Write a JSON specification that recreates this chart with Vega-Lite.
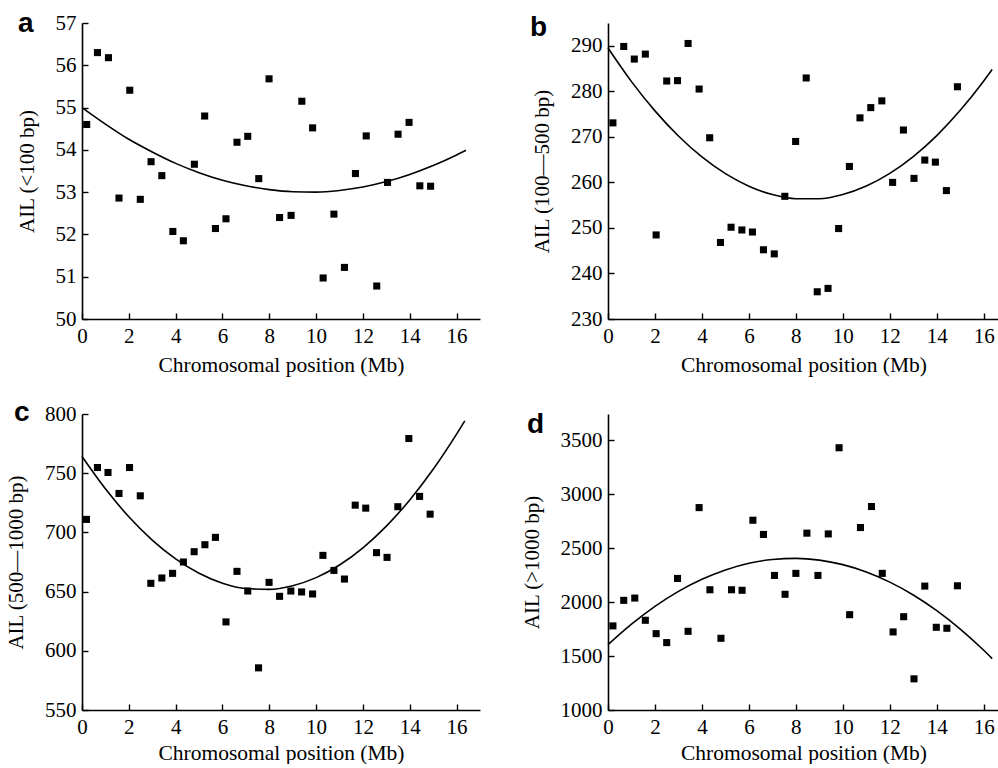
{
  "$schema": "https://vega.github.io/schema/vega-lite/v6.json",
  "background": "white",
  "padding": {"left": 5, "top": 10, "right": 0, "bottom": 0},
  "bounds": "flush",
  "columns": 2,
  "spacing": {"row": 95, "column": 128},
  "datasets": {
    "a_pts": [
      {"pos":0.2,"ail":54.6},{"pos":0.66,"ail":56.3},{"pos":1.13,"ail":56.18},{"pos":1.58,"ail":52.86},{"pos":2.04,"ail":55.41},{"pos":2.49,"ail":52.83},{"pos":2.95,"ail":53.72},{"pos":3.41,"ail":53.39},{"pos":3.88,"ail":52.07},{"pos":4.33,"ail":51.85},{"pos":4.8,"ail":53.66},{"pos":5.24,"ail":54.8},{"pos":5.7,"ail":52.14},{"pos":6.15,"ail":52.37},{"pos":6.62,"ail":54.18},{"pos":7.08,"ail":54.32},{"pos":7.55,"ail":53.32},{"pos":7.99,"ail":55.68},{"pos":8.44,"ail":52.4},{"pos":8.93,"ail":52.45},{"pos":9.39,"ail":55.15},{"pos":9.85,"ail":54.52},{"pos":10.3,"ail":50.97},{"pos":10.76,"ail":52.48},{"pos":11.21,"ail":51.22},{"pos":11.68,"ail":53.44},{"pos":12.14,"ail":54.33},{"pos":12.59,"ail":50.78},{"pos":13.05,"ail":53.23},{"pos":13.5,"ail":54.37},{"pos":13.97,"ail":54.65},{"pos":14.43,"ail":53.15},{"pos":14.89,"ail":53.14}
    ],
    "a_fit": [
      {"pos":0,"ail":55.0},{"pos":1,"ail":54.61},{"pos":2,"ail":54.25},{"pos":3,"ail":53.95},{"pos":4,"ail":53.68},{"pos":5,"ail":53.46},{"pos":6,"ail":53.28},{"pos":7,"ail":53.15},{"pos":8,"ail":53.06},{"pos":9,"ail":53.01},{"pos":10,"ail":53.0},{"pos":11,"ail":53.04},{"pos":12,"ail":53.12},{"pos":13,"ail":53.25},{"pos":14,"ail":53.42},{"pos":15,"ail":53.63},{"pos":16,"ail":53.88},{"pos":16.4,"ail":53.99}
    ],
    "b_pts": [
      {"pos":0.21,"ail":273.07},{"pos":0.67,"ail":289.85},{"pos":1.12,"ail":287.08},{"pos":1.59,"ail":288.17},{"pos":2.05,"ail":248.46},{"pos":2.5,"ail":282.26},{"pos":2.96,"ail":282.34},{"pos":3.41,"ail":290.5},{"pos":3.88,"ail":280.5},{"pos":4.33,"ail":269.8},{"pos":4.79,"ail":246.8},{"pos":5.24,"ail":250.15},{"pos":5.7,"ail":249.55},{"pos":6.15,"ail":249.1},{"pos":6.62,"ail":245.2},{"pos":7.08,"ail":244.3},{"pos":7.53,"ail":256.94},{"pos":7.99,"ail":268.98},{"pos":8.44,"ail":282.93},{"pos":8.91,"ail":235.98},{"pos":9.37,"ail":236.72},{"pos":9.82,"ail":249.86},{"pos":10.28,"ail":263.5},{"pos":10.73,"ail":274.17},{"pos":11.19,"ail":276.42},{"pos":11.66,"ail":277.9},{"pos":12.12,"ail":260.0},{"pos":12.58,"ail":271.5},{"pos":13.03,"ail":260.88},{"pos":13.49,"ail":264.9},{"pos":13.94,"ail":264.45},{"pos":14.41,"ail":258.2},{"pos":14.88,"ail":281.0}
    ],
    "b_fit": [
      {"pos":0,"ail":289.5},{"pos":1,"ail":282.13},{"pos":2,"ail":275.7},{"pos":3,"ail":270.18},{"pos":4,"ail":265.58},{"pos":5,"ail":261.91},{"pos":6,"ail":259.16},{"pos":7,"ail":257.32},{"pos":8,"ail":256.41},{"pos":9,"ail":256.42},{"pos":10,"ail":257.35},{"pos":11,"ail":259.2},{"pos":12,"ail":261.97},{"pos":13,"ail":265.67},{"pos":14,"ail":270.28},{"pos":15,"ail":275.82},{"pos":16,"ail":282.27},{"pos":16.36,"ail":284.8}
    ],
    "c_pts": [
      {"pos":0.19,"ail":711.0},{"pos":0.66,"ail":754.8},{"pos":1.11,"ail":750.6},{"pos":1.58,"ail":732.9},{"pos":2.03,"ail":754.8},{"pos":2.49,"ail":730.9},{"pos":2.94,"ail":657.0},{"pos":3.41,"ail":661.5},{"pos":3.87,"ail":665.4},{"pos":4.33,"ail":675.0},{"pos":4.79,"ail":683.7},{"pos":5.25,"ail":689.6},{"pos":5.7,"ail":695.8},{"pos":6.15,"ail":624.4},{"pos":6.62,"ail":667.1},{"pos":7.08,"ail":650.5},{"pos":7.54,"ail":585.6},{"pos":7.99,"ail":657.8},{"pos":8.44,"ail":646.0},{"pos":8.92,"ail":650.5},{"pos":9.38,"ail":649.7},{"pos":9.85,"ail":648.0},{"pos":10.29,"ail":680.6},{"pos":10.76,"ail":667.9},{"pos":11.21,"ail":660.6},{"pos":11.67,"ail":723.0},{"pos":12.12,"ail":720.5},{"pos":12.58,"ail":682.9},{"pos":13.03,"ail":678.9},{"pos":13.49,"ail":721.7},{"pos":13.96,"ail":779.3},{"pos":14.42,"ail":730.4},{"pos":14.87,"ail":715.4}
    ],
    "c_fit": [
      {"pos":0,"ail":764.1},{"pos":1,"ail":736.8},{"pos":2,"ail":713.2},{"pos":3,"ail":693.5},{"pos":4,"ail":677.6},{"pos":5,"ail":665.5},{"pos":6,"ail":657.1},{"pos":7,"ail":652.6},{"pos":8,"ail":651.9},{"pos":9,"ail":655.0},{"pos":10,"ail":661.8},{"pos":11,"ail":672.5},{"pos":12,"ail":687.0},{"pos":13,"ail":705.3},{"pos":14,"ail":727.4},{"pos":15,"ail":753.3},{"pos":16,"ail":783.0},{"pos":16.35,"ail":794.2}
    ],
    "d_pts": [
      {"pos":0.21,"ail":1780},{"pos":0.67,"ail":2017},{"pos":1.14,"ail":2038},{"pos":1.59,"ail":1832},{"pos":2.05,"ail":1708},{"pos":2.5,"ail":1625},{"pos":2.96,"ail":2220},{"pos":3.41,"ail":1730},{"pos":3.88,"ail":2877},{"pos":4.34,"ail":2115},{"pos":4.81,"ail":1665},{"pos":5.26,"ail":2115},{"pos":5.71,"ail":2110},{"pos":6.17,"ail":2760},{"pos":6.62,"ail":2628},{"pos":7.09,"ail":2248},{"pos":7.54,"ail":2073},{"pos":8.0,"ail":2267},{"pos":8.47,"ail":2640},{"pos":8.94,"ail":2248},{"pos":9.38,"ail":2633},{"pos":9.84,"ail":3432},{"pos":10.29,"ail":1884},{"pos":10.75,"ail":2692},{"pos":11.22,"ail":2887},{"pos":11.68,"ail":2267},{"pos":12.14,"ail":1724},{"pos":12.59,"ail":1865},{"pos":13.03,"ail":1289},{"pos":13.49,"ail":2149},{"pos":13.98,"ail":1767},{"pos":14.43,"ail":1758},{"pos":14.88,"ail":2152}
    ],
    "d_fit": [
      {"pos":0,"ail":1606},{"pos":1,"ail":1796},{"pos":2,"ail":1961},{"pos":3,"ail":2100},{"pos":4,"ail":2212},{"pos":5,"ail":2299},{"pos":6,"ail":2361},{"pos":7,"ail":2396},{"pos":8,"ail":2406},{"pos":9,"ail":2390},{"pos":10,"ail":2348},{"pos":11,"ail":2280},{"pos":12,"ail":2186},{"pos":13,"ail":2067},{"pos":14,"ail":1922},{"pos":15,"ail":1751},{"pos":16,"ail":1554},{"pos":16.36,"ail":1477}
    ]
  },
  "concat": [
    {
      "width": 398, "height": 296,
      "title": {"text": "a", "anchor": "start", "frame": "group", "font": "Liberation Sans", "fontSize": 28, "fontWeight": "bold", "color": "black", "baseline": "alphabetic", "dx": -64, "dy": 48, "offset": 0},
      "encoding": {
        "x": {"field": "pos", "type": "quantitative", "scale": {"domain": [0, 17], "nice": false, "zero": false}, "axis": {"title": "Chromosomal position (Mb)", "values": [0,2,4,6,8,10,12,14,16]}},
        "y": {"field": "ail", "type": "quantitative", "scale": {"domain": [50, 57], "nice": false, "zero": false}, "axis": {"title": "AIL (<100 bp)", "format": "d", "values": [50,51,52,53,54,55,56,57]}}
      },
      "layer": [
        {"data": {"name": "a_fit"}, "mark": {"type": "line", "color": "black", "strokeWidth": 1.6, "interpolate": "monotone"}},
        {"data": {"name": "a_pts"}, "mark": {"type": "point", "shape": "square", "filled": true, "color": "black", "opacity": 1, "size": 50}}
      ]
    },
    {
      "width": 391, "height": 296,
      "title": {"text": "b", "anchor": "start", "frame": "group", "font": "Liberation Sans", "fontSize": 28, "fontWeight": "bold", "color": "black", "baseline": "alphabetic", "dx": -78, "dy": 41, "offset": 0},
      "encoding": {
        "x": {"field": "pos", "type": "quantitative", "scale": {"domain": [0, 16.65], "nice": false, "zero": false}, "axis": {"title": "Chromosomal position (Mb)", "values": [0,2,4,6,8,10,12,14,16]}},
        "y": {"field": "ail", "type": "quantitative", "scale": {"domain": [230, 295], "nice": false, "zero": false}, "axis": {"title": "AIL (100—500 bp)", "format": "d", "values": [230,240,250,260,270,280,290]}}
      },
      "layer": [
        {"data": {"name": "b_fit"}, "mark": {"type": "line", "color": "black", "strokeWidth": 1.6, "interpolate": "monotone"}},
        {"data": {"name": "b_pts"}, "mark": {"type": "point", "shape": "square", "filled": true, "color": "black", "opacity": 1, "size": 50}}
      ]
    },
    {
      "width": 398, "height": 296,
      "title": {"text": "c", "anchor": "start", "frame": "group", "font": "Liberation Sans", "fontSize": 28, "fontWeight": "bold", "color": "black", "baseline": "alphabetic", "dx": -68, "dy": 46, "offset": 0},
      "encoding": {
        "x": {"field": "pos", "type": "quantitative", "scale": {"domain": [0, 17], "nice": false, "zero": false}, "axis": {"title": "Chromosomal position (Mb)", "titlePadding": 5, "values": [0,2,4,6,8,10,12,14,16]}},
        "y": {"field": "ail", "type": "quantitative", "scale": {"domain": [550, 800], "nice": false, "zero": false}, "axis": {"title": "AIL (500—1000 bp)", "format": "d", "values": [550,600,650,700,750,800]}}
      },
      "layer": [
        {"data": {"name": "c_fit"}, "mark": {"type": "line", "color": "black", "strokeWidth": 1.6, "interpolate": "monotone"}},
        {"data": {"name": "c_pts"}, "mark": {"type": "point", "shape": "square", "filled": true, "color": "black", "opacity": 1, "size": 50}}
      ]
    },
    {
      "width": 391, "height": 296,
      "title": {"text": "d", "anchor": "start", "frame": "group", "font": "Liberation Sans", "fontSize": 28, "fontWeight": "bold", "color": "black", "baseline": "alphabetic", "dx": -81, "dy": 47, "offset": 0},
      "encoding": {
        "x": {"field": "pos", "type": "quantitative", "scale": {"domain": [0, 16.65], "nice": false, "zero": false}, "axis": {"title": "Chromosomal position (Mb)", "titlePadding": 5, "values": [0,2,4,6,8,10,12,14,16]}},
        "y": {"field": "ail", "type": "quantitative", "scale": {"domain": [1000, 3745], "nice": false, "zero": false}, "axis": {"title": "AIL (>1000 bp)", "format": "d", "values": [1000,1500,2000,2500,3000,3500]}}
      },
      "layer": [
        {"data": {"name": "d_fit"}, "mark": {"type": "line", "color": "black", "strokeWidth": 1.6, "interpolate": "monotone"}},
        {"data": {"name": "d_pts"}, "mark": {"type": "point", "shape": "square", "filled": true, "color": "black", "opacity": 1, "size": 50}}
      ]
    }
  ],
  "config": {
    "view": {"stroke": null},
    "axis": {
      "domainColor": "black", "domainWidth": 1.6, "tickColor": "black", "tickWidth": 1.4, "tickSize": -6,
      "labelPadding": 12, "labelFont": "Liberation Serif", "labelFontSize": 21, "labelColor": "black",
      "titleFont": "Liberation Serif", "titleFontSize": 21, "titleFontWeight": "normal", "titleColor": "black",
      "grid": false, "labelFlush": false, "labelOverlap": false
    },
    "axisY": {"titlePadding": 18},
    "axisX": {"titlePadding": 8, "titleFontSize": 21.5}
  }
}
